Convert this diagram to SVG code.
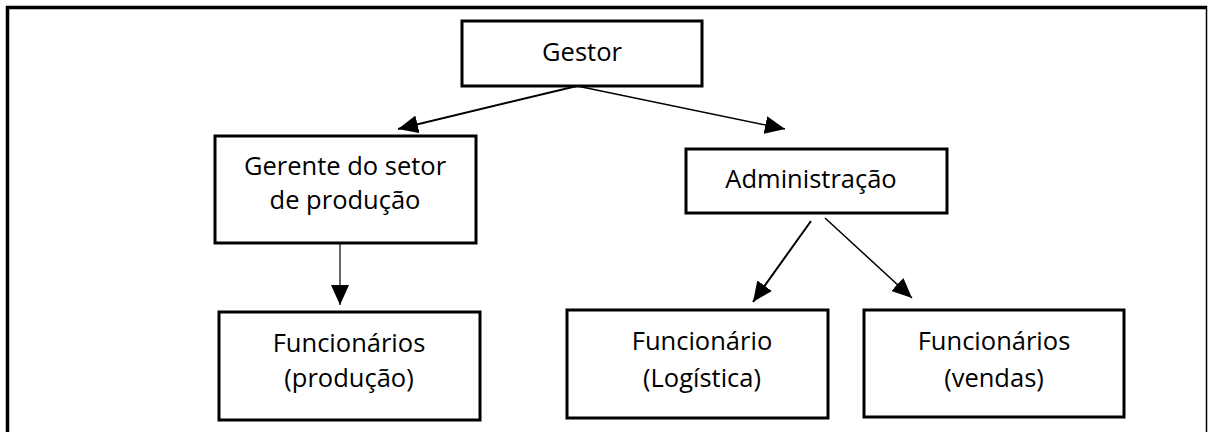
<svg xmlns="http://www.w3.org/2000/svg" width="1208" height="432" viewBox="0 0 1208 432">
<defs>
<style>
.box{fill:#fff;stroke:#000;stroke-width:3}
.t{font-family:"Open Sans","Liberation Sans",sans-serif;font-size:25.5px;fill:#000;text-anchor:middle}
.c{stroke:#000;fill:none}
</style>
<marker id="ah" markerUnits="userSpaceOnUse" markerWidth="22" markerHeight="18" refX="20" refY="9" orient="auto" viewBox="0 0 22 18">
<path d="M0,0 L20,9 L0,18 Z" fill="#000"/>
</marker>
</defs>
<rect width="1208" height="432" fill="#fff"/>
<g id="frame">
<line x1="7.5" y1="432" x2="7.5" y2="6" stroke="#000" stroke-width="3.5"/>
<line x1="6" y1="7.5" x2="1207" y2="7.5" stroke="#000" stroke-width="3.5"/>
<line x1="1206.5" y1="6" x2="1206.5" y2="432" stroke="#000" stroke-width="1.5"/>
</g>
<g id="connectors">
<line class="c" x1="577" y1="86" x2="398" y2="129" stroke-width="2" marker-end="url(#ah)"/>
<line class="c" x1="577" y1="86" x2="785" y2="129" stroke-width="1.5" marker-end="url(#ah)"/>
<line class="c" x1="340" y1="243" x2="340" y2="305" stroke-width="1.2" marker-end="url(#ah)"/>
<line class="c" x1="811" y1="221" x2="753" y2="302" stroke-width="2" marker-end="url(#ah)"/>
<line class="c" x1="825" y1="218" x2="912" y2="298" stroke-width="1.5" marker-end="url(#ah)"/>
</g>
<g id="gestor">
<rect class="box" x="462" y="21" width="240" height="65"/>
<text class="t" x="582" y="61">Gestor</text>
</g>
<g id="gerente">
<rect class="box" x="215" y="136" width="261" height="107"/>
<text class="t" x="345" y="175">Gerente do setor</text>
<text class="t" x="345" y="209">de produção</text>
</g>
<g id="administracao">
<rect class="box" x="686" y="149" width="261" height="64"/>
<text class="t" x="811" y="188">Administração</text>
</g>
<g id="func-producao">
<rect class="box" x="219" y="312" width="261" height="108"/>
<text class="t" x="349" y="352">Funcionários</text>
<text class="t" x="349" y="387">(produção)</text>
</g>
<g id="func-logistica">
<rect class="box" x="567" y="310" width="261" height="108"/>
<text class="t" x="702" y="350">Funcionário</text>
<text class="t" x="702" y="387">(Logística)</text>
</g>
<g id="func-vendas">
<rect class="box" x="864" y="310" width="260" height="107"/>
<text class="t" x="994" y="350">Funcionários</text>
<text class="t" x="994" y="387">(vendas)</text>
</g>
</svg>
